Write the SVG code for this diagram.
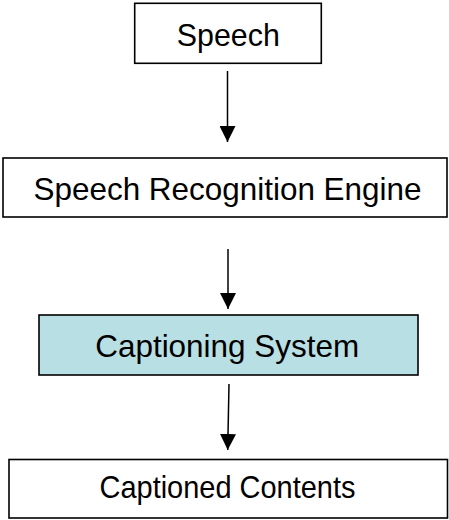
<svg xmlns="http://www.w3.org/2000/svg" width="449" height="520" viewBox="0 0 449 520">
  <style>
    .box { fill: #ffffff; stroke: #000000; stroke-width: 1.6; }
    .hl { fill: #b8dfe3; }
    .lbl { font-family: "Liberation Sans", Arial, sans-serif; font-size: 32px; fill: #000000; text-anchor: middle; }
    .conn { stroke: #000000; stroke-width: 1.5; fill: none; marker-end: url(#arrow); }
  </style>
  <defs>
    <marker id="arrow" markerUnits="userSpaceOnUse" markerWidth="16" markerHeight="16" refX="16" refY="8" orient="auto" viewBox="0 0 16 16">
      <path d="M0,0 L16,8 L0,16 z" fill="#000000"/>
    </marker>
  </defs>
  <rect width="449" height="520" fill="#ffffff"/>
  <g id="node-speech">
    <rect class="box" x="134.7" y="3.3" width="186.6" height="60"/>
    <text class="lbl" x="228.3" y="46" textLength="103" lengthAdjust="spacingAndGlyphs">Speech</text>
  </g>
  <g id="node-sre">
    <rect class="box" x="3" y="158" width="444" height="59"/>
    <text class="lbl" x="227.5" y="200" textLength="388" lengthAdjust="spacingAndGlyphs">Speech Recognition Engine</text>
  </g>
  <g id="node-captioning">
    <rect class="box hl" x="39" y="315" width="379" height="60"/>
    <text class="lbl" x="227.2" y="357.3" textLength="264" lengthAdjust="spacingAndGlyphs">Captioning System</text>
  </g>
  <g id="node-captioned">
    <rect class="box" x="9" y="459.5" width="438.5" height="58.5"/>
    <text class="lbl" x="227.5" y="498.3" textLength="256" lengthAdjust="spacingAndGlyphs">Captioned Contents</text>
  </g>
  <g id="connectors">
    <line class="conn" x1="227.5" y1="71" x2="227.5" y2="142"/>
    <line class="conn" x1="228" y1="249" x2="228" y2="309"/>
    <line class="conn" x1="229" y1="384" x2="227.7" y2="450"/>
  </g>
</svg>
